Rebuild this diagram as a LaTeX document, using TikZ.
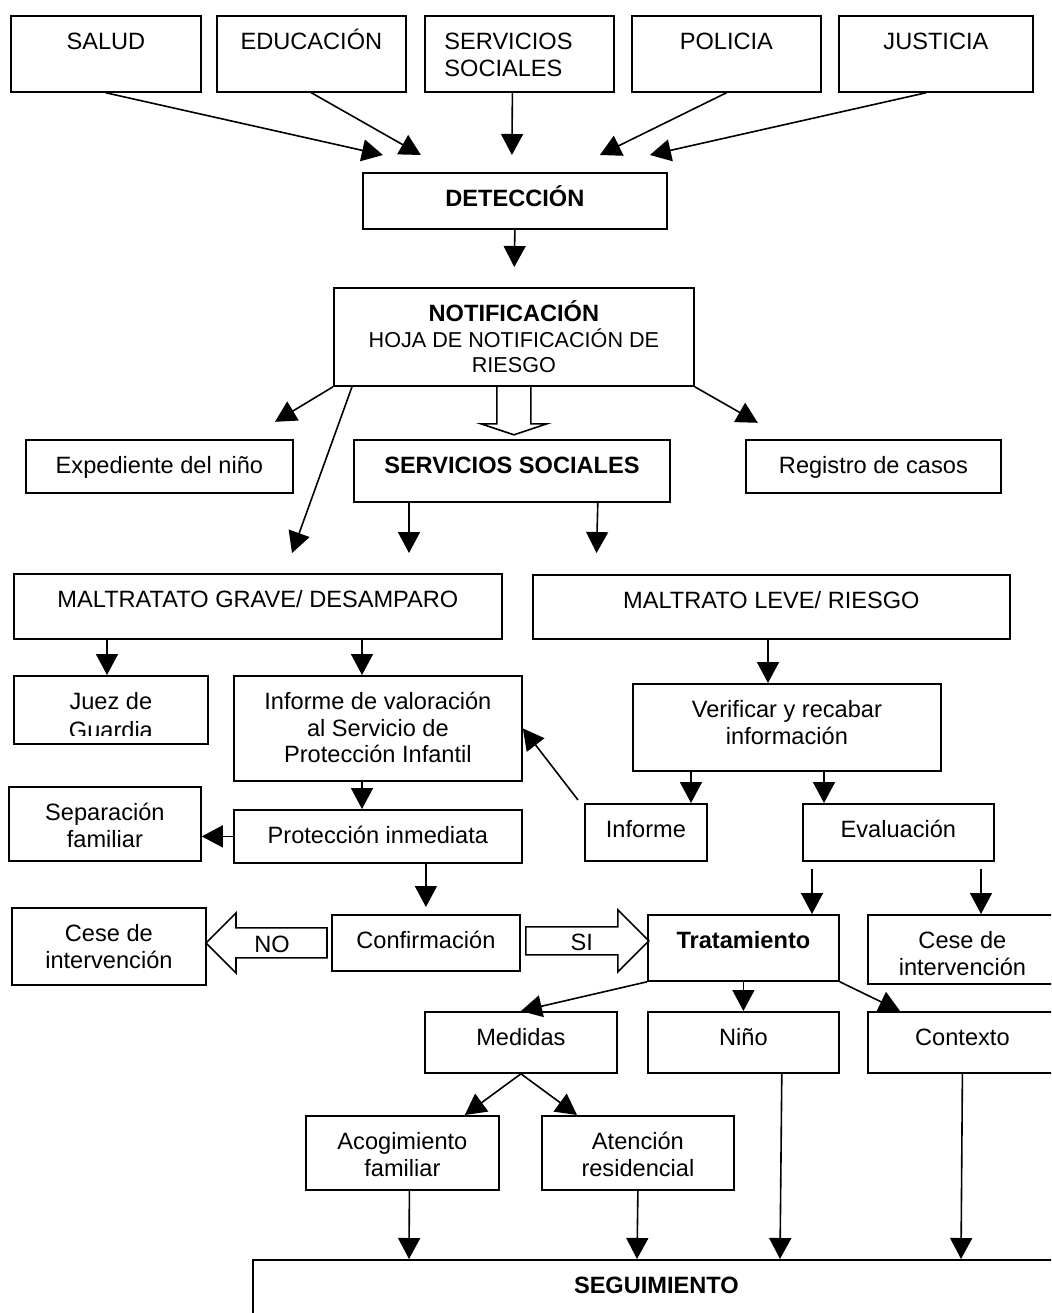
\documentclass[tikz,border=0pt]{standalone}
\usepackage{fontspec}
\setmainfont{Liberation Sans}
\usetikzlibrary{arrows.meta, calc}

% texto de cada caja: ancho, alto, contenido (arriba y centrado)
\newcommand{\caja}[3]{\parbox[c][#2pt][t]{#1pt}{\centering\lineskiplimit=-100pt\rule{0pt}{34pt}#3}}

\begin{document}
\begin{tikzpicture}[x=1pt, y=-1pt,
    every node/.style={font=\fontsize{23.6}{26.5}\selectfont},
    caja/.style={draw, line width=1.8pt, inner sep=0pt, anchor=north west},
    flecha/.style={-{Triangle[length=21pt,width=22pt]}, line width=1.6pt},
    hueca/.style={line width=1.6pt, line join=miter}]
  \useasboundingbox (0,0) rectangle (1051,1313);
  \clip (0,0) rectangle (1051,1313);
  \fill[white] (0,0) rectangle (1051,1313);

  % fuentes
  \node[caja] (salud) at (10,15) {\caja{190}{76}{SALUD}};
  \node[caja] (educ) at (216,15) {\caja{189}{76}{EDUCACIÓN}};
  \node[caja] (sserv) at (424,15) {\caja{189}{76}{\makebox[150pt][l]{SERVICIOS}\\\makebox[150pt][l]{SOCIALES}}};
  \node[caja] (policia) at (631,15) {\caja{189}{76}{POLICIA}};
  \node[caja] (justicia) at (838,15) {\caja{194}{76}{JUSTICIA}};

  \node[caja] (det) at (362,172) {\caja{304}{56}{\textbf{DETECCIÓN}}};
  \node[caja] (notif) at (333,287) {\caja{360}{98}{\textbf{NOTIFICACIÓN}\\\fontsize{21.6}{25.5}\selectfont HOJA DE NOTIFICACIÓN DE\\RIESGO}};

  \node[caja] (exped) at (25,439) {\caja{267}{53}{Expediente del niño}};
  \node[caja] (ssoc) at (353,439) {\caja{316}{62}{\textbf{SERVICIOS SOCIALES}}};
  \node[caja] (registro) at (745,439) {\caja{255}{53}{Registro de casos}};

  \node[caja] (grave) at (13,573) {\caja{488}{65}{MALTRATATO GRAVE/ DESAMPARO}};
  \node[caja] (leve) at (532,574) {\caja{477}{64}{MALTRATO LEVE/ RIESGO}};

  \node[caja] (juez) at (13,675) {\caja{194}{68}{}};
  \begin{scope}
    \clip (juez.north west) rectangle ($(juez.south east)+(0,-9)$);
    \node[caja, draw=none] (juezt) at (juez.north west) {\caja{194}{68}{\fontsize{23.6}{29}\selectfont Juez de\\Guardia}};
  \end{scope}
  \node[caja] (valor) at (233,675) {\caja{288}{105}{Informe de valoración\\al Servicio de\\Protección Infantil}};
  \node[caja] (verif) at (632,683) {\caja{308}{87}{Verificar y recabar\\información}};

  \node[caja] (separ) at (8,786) {\caja{192}{74}{Separación\\familiar}};
  \node[caja] (protec) at (233,809) {\caja{288}{53}{Protección inmediata}};
  \node[caja] (informe) at (584,803) {\caja{122}{57}{Informe}};
  \node[caja] (eval) at (802,803) {\caja{191}{57}{Evaluación}};

  \node[caja] (ceseA) at (11,907) {\caja{194}{77}{Cese de\\intervención}};
  \node[caja] (conf) at (331,914) {\caja{188}{56}{Confirmación}};
  \node[caja] (trat) at (647,914) {\caja{191}{66}{\textbf{Tratamiento}}};
  \node[caja] (ceseB) at (867,914) {\caja{189}{69}{Cese de\\intervención}};

  \node[caja] (medidas) at (424,1011) {\caja{192}{61}{Medidas}};
  \node[caja] (nino) at (647,1011) {\caja{191}{61}{Niño}};
  \node[caja] (contexto) at (867,1011) {\caja{189}{61}{Contexto}};
  \node[caja] (acog) at (305,1115) {\caja{193}{74}{Acogimiento\\familiar}};
  \node[caja] (atenc) at (541,1115) {\caja{192}{74}{Atención\\residencial}};
  \node[caja] (segui) at (252,1259) {\caja{807}{90}{\textbf{SEGUIMIENTO}}};

  % deteccion
  \draw[flecha] (salud.south) -- ($(det.north)+(-132,-17)$);
  \draw[flecha] (educ.south) -- ($(det.north)+(-94,-17)$);
  \draw[flecha] ($(sserv.south)+(-7,0)$) -- ($(det.north)+(-3,-17)$);
  \draw[flecha] (policia.south) -- ($(det.north)+(85,-17)$);
  \draw[flecha] ($(justicia.south)+(-10,0)$) -- ($(det.north)+(135,-17)$);
  \draw[flecha, shorten >=20pt] (det.south) -- (notif.north);

  % notificacion
  \draw[flecha] (notif.south west) -- ++(-58,35);
  \draw[flecha] ($(notif.south west)+(19,0)$) -- ($(grave.north west)+(279,-20)$);
  \draw[flecha] (notif.south east) -- ++(63,36);
  \draw[hueca] ($(notif.south)+(-17,0)$) -- ++(0,37) -- ++(-16,0) -- ++(33,11) -- ++(33,-11) -- ++(-16,0) -- ++(0,-37);
  \draw[flecha, shorten >=20pt] ($(ssoc.south west)+(56,0)$) -- ($(grave.north west)+(396,0)$);
  \draw[flecha, shorten >=21pt] ($(ssoc.south east)+(-73,0)$) -- ($(leve.north west)+(64,0)$);

  % valoracion
  \draw[flecha] ($(grave.south west)+(94,0)$) -- ($(juez.north west)+(94,0)$);
  \draw[flecha] ($(grave.south west)+(349,0)$) -- ($(valor.north west)+(129,0)$);
  \draw[flecha] ($(leve.south west)+(236,0)$) -- ($(verif.north west)+(136,0)$);
  \draw[flecha] ($(valor.south west)+(129,0)$) -- ($(protec.north west)+(129,0)$);
  \draw[flecha] ($(verif.south west)+(59,0)$) -- ($(informe.north west)+(107,0)$);
  \draw[flecha] ($(verif.south west)+(192,0)$) -- ($(eval.north west)+(22,0)$);
  \draw[flecha] ($(informe.north west)+(-6,-3)$) -- (valor.east);
  \draw[flecha] (protec.west) -- (protec.west -| separ.east);
  \draw[flecha, shorten >=7pt] (conf.north |- protec.south) -- (conf.north);
  \draw[flecha] ($(eval.south west)+(10,7)$) -- ($(trat.north west)+(165,0)$);
  \draw[flecha] ($(eval.south west)+(179,7)$) -- ($(ceseB.north west)+(114,0)$);

  % confirmacion
  \draw[hueca] ($(conf.west)+(-4,-15)$) -- ++(-91,0) -- ++(0,-15) -- ++(-30,30) -- ++(30,30) -- ++(0,-15) -- ++(91,0) -- cycle;
  \node (no) at ($(conf.west)+(-59,1)$) {NO};
  \draw[hueca] ($(conf.east)+(5,-16)$) -- ++(92,0) -- ++(0,-17) -- ++(31,31) -- ++(-31,31) -- ++(0,-17) -- ++(-92,0) -- cycle;
  \node (si) at ($(conf.east)+(61,-1)$) {SI};

  % tratamiento
  \draw[flecha] (trat.south west) -- (medidas.north);
  \draw[flecha] (trat.south) -- (nino.north);
  \draw[flecha] (trat.south east) -- ($(contexto.north west)+(33,0)$);
  \draw[flecha] (medidas.south) -- ($(acog.north east)+(-35,0)$);
  \draw[flecha] (medidas.south) -- ($(atenc.north west)+(36,0)$);
  \draw[flecha] ($(acog.south)+(7,0)$) -- ($(segui.north west)+(157,0)$);
  \draw[flecha] (atenc.south) -- ($(segui.north west)+(385,0)$);
  \draw[flecha] ($(nino.south east)+(-58,0)$) -- ($(segui.north west)+(528,0)$);
  \draw[flecha] (contexto.south) -- ($(segui.north west)+(709,0)$);
\end{tikzpicture}
\end{document}
